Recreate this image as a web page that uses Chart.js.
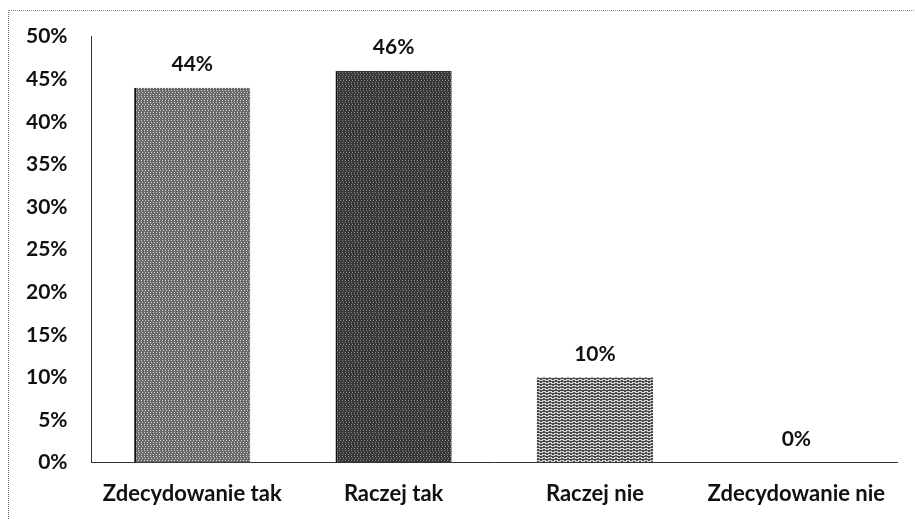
<!DOCTYPE html>
<html>
<head>
<meta charset="utf-8">
<script src="https://cdn.jsdelivr.net/npm/chart.js@4/dist/chart.umd.min.js"></script>
<style>
  body { margin: 0; background: #fff; overflow: hidden; }
  #frame { position: absolute; left: 8px; top: 10px; width: 915px; height: 520px;
           border-top: 1px dotted #888; border-left: 1px dotted #666; }
  #chart { position: absolute; left: 0; top: 0; }
</style>
</head>
<body>
<div id="frame"></div>
<canvas id="chart" width="915" height="519"></canvas>
<script>
// answers and share of responses (%)
var categories = ["Zdecydowanie tak", "Raczej tak", "Raczej nie", "Zdecydowanie nie"];
var shares = [44, 46, 10, 0];
var yTicks = [0, 5, 10, 15, 20, 25, 30, 35, 40, 45, 50];

// small hatch patterns to imitate the printed textures
function makePattern(base, dots, step) {
  var c = document.createElement("canvas");
  c.width = step;
  c.height = step;
  var p = c.getContext("2d");
  p.fillStyle = base;
  p.fillRect(0, 0, step, step);
  p.fillStyle = dots;
  for (var y = 0; y < step; y += 2) {
    for (var x = (y / 2) % 2; x < step; x += 3) {
      p.fillRect(x, y, 1, 1);
    }
  }
  return p.createPattern(c, "repeat");
}

function makeLines(dark, light) {
  var c = document.createElement("canvas");
  c.width = 6;
  c.height = 3;
  var p = c.getContext("2d");
  p.fillStyle = light;
  p.fillRect(0, 0, 6, 3);
  p.fillStyle = dark;
  p.fillRect(0, 0, 6, 1);
  p.fillRect(0, 1, 2, 1);
  p.fillRect(3, 2, 2, 1);
  return p.createPattern(c, "repeat");
}

// draw the value above each bar
var valueLabels = {
  id: "valueLabels",
  afterDatasetsDraw: function(chart) {
    var ctx = chart.ctx;
    var meta = chart.getDatasetMeta(0);
    ctx.save();
    ctx.font = "bold 21px Lato";
    ctx.fillStyle = "#111";
    ctx.textAlign = "center";
    ctx.textBaseline = "middle";
    meta.data.forEach(function(bar, i) {
      ctx.fillText(shares[i] + "%", bar.x, bar.y - 23);
    });
    ctx.restore();
  }
};

window.onload = function() {
  var ctx = document.getElementById("chart").getContext("2d");
  var fills = [
    makePattern("#6a6a6a", "#d6d6d6", 6),
    makePattern("#363636", "#8e8e8e", 6),
    makeLines("#4a4a4a", "#d4d4d4"),
    makeLines("#4a4a4a", "#d4d4d4")
  ];
  new Chart(ctx, {
    type: "bar",
    data: {
      labels: categories,
      datasets: [{
        data: shares,
        backgroundColor: fills,
        borderColor: "#111",
        borderSkipped: false,
        borderWidth: function(c) {
          return c.dataIndex < 2 ? { left: 2, top: 0, right: 0, bottom: 0 } : 0;
        },
        barPercentage: 0.577,
        categoryPercentage: 1
      }]
    },
    options: {
      responsive: false,
      animation: false,
      layout: { padding: { left: 2, right: 18, top: 36, bottom: -6 } },
      plugins: { legend: { display: false }, tooltip: { enabled: false } },
      scales: {
        x: {
          grid: { display: false, drawTicks: false },
          border: { color: "#333", width: 1 },
          ticks: { color: "#111", font: { family: "Lato", size: 22, weight: "bold" }, padding: 18, maxRotation: 0 }
        },
        y: {
          min: yTicks[0],
          max: yTicks[yTicks.length - 1],
          afterBuildTicks: function(axis) {
            axis.ticks = yTicks.map(function(v) { return { value: v }; });
          },
          grid: { display: false, drawTicks: false },
          border: { color: "#333", width: 1 },
          ticks: {
            color: "#111",
            font: { family: "Lato", size: 21, weight: "bold" },
            padding: 24,
            callback: function(v) { return v + "%"; }
          }
        }
      }
    },
    plugins: [valueLabels]
  });
};
</script>
</body>
</html>
